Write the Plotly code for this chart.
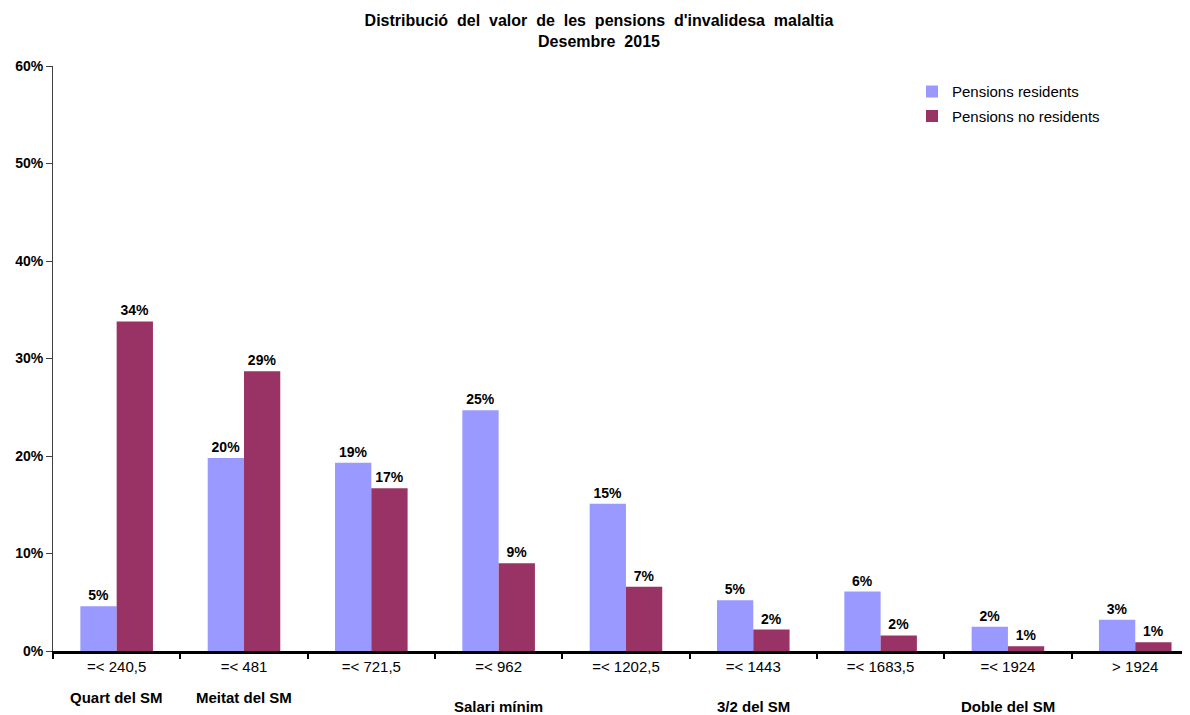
import plotly.graph_objects as go

categories = ["=< 240,5", "=< 481", "=< 721,5", "=< 962", "=< 1202,5",
              "=< 1443", "=< 1683,5", "=< 1924", "> 1924"]
residents = [4.6, 19.8, 19.3, 24.7, 15.1, 5.2, 6.1, 2.5, 3.2]
non_residents = [33.8, 28.7, 16.7, 9.0, 6.6, 2.2, 1.6, 0.5, 0.9]
residents_labels = ["5%", "20%", "19%", "25%", "15%", "5%", "6%", "2%", "3%"]
non_residents_labels = ["34%", "29%", "17%", "9%", "7%", "2%", "2%", "1%", "1%"]
group_labels = [("=< 240,5", "Quart del SM", 0), ("=< 481", "Meitat del SM", 0),
                ("=< 962", "Salari mínim", 1), ("=< 1443", "3/2 del SM", 1),
                ("=< 1924", "Doble del SM", 1)]
y_ticks = [0, 10, 20, 30, 40, 50, 60]

FONT = "Liberation Sans, Arial, sans-serif"

fig = go.Figure()
fig.add_trace(go.Bar(
    x=categories, y=residents, name="Pensions residents", legendgroup="a",
    marker=dict(color="#9999FF", line=dict(width=0)),
    text=[f"<b>{t}</b>" for t in residents_labels], textposition="outside",
    textfont=dict(size=14, color="black", family=FONT), cliponaxis=False))
fig.add_trace(go.Bar(
    x=categories, y=non_residents, name="Pensions no residents", legendgroup="b",
    marker=dict(color="#993366", line=dict(width=0)),
    text=[f"<b>{t}</b>" for t in non_residents_labels], textposition="outside",
    textfont=dict(size=14, color="black", family=FONT), cliponaxis=False))

for cat, lab, row in group_labels:
    fig.add_annotation(x=cat, xref="x", y=0, yref="y", yshift=-46 - 9 * row,
                       text=f"<b>{lab}</b>", showarrow=False,
                       font=dict(size=15, color="black", family=FONT))

# page body has an 8px margin: figure sized/offset to compensate
fig.update_layout(
    width=1182, height=707,
    margin=dict(l=45, r=0, t=58, b=64, autoexpand=False),
    paper_bgcolor="white", plot_bgcolor="white",
    barmode="group", bargap=0.43, bargroupgap=0,
    title=dict(text="<b>Distribució  del  valor  de  les  pensions  d'invalidesa  malaltia</b><br><b>Desembre  2015</b>",
               x=0.5, xanchor="center", yref="container", y=1 - 18 / 707, yanchor="top",
               font=dict(size=16, color="black", family=FONT)),
    font=dict(family=FONT, color="black"),
    legend=dict(x=0.7555, y=0.984, xanchor="left", yanchor="top",
                font=dict(size=15, color="black", family=FONT),
                bgcolor="rgba(0,0,0,0)", tracegroupgap=2),
    showlegend=True,
)
fig.update_xaxes(type="category", range=[-0.5, 8.43], showline=True,
                 linecolor="black", linewidth=3, ticks="outside",
                 tickson="boundaries", ticklen=5, tickwidth=2, tickcolor="black",
                 tickfont=dict(size=15, color="black", family=FONT),
                 showgrid=False, automargin=False)
fig.update_yaxes(range=[0, 60], tickvals=y_ticks,
                 ticktext=[f"<b>{v}%</b>" for v in y_ticks],
                 showline=True, linecolor="#404040", linewidth=1,
                 ticks="outside", ticklen=6, tickcolor="#404040",
                 tickfont=dict(size=14, color="black", family=FONT),
                 showgrid=False, zeroline=False, automargin=False)

fig.write_html("out.html")
